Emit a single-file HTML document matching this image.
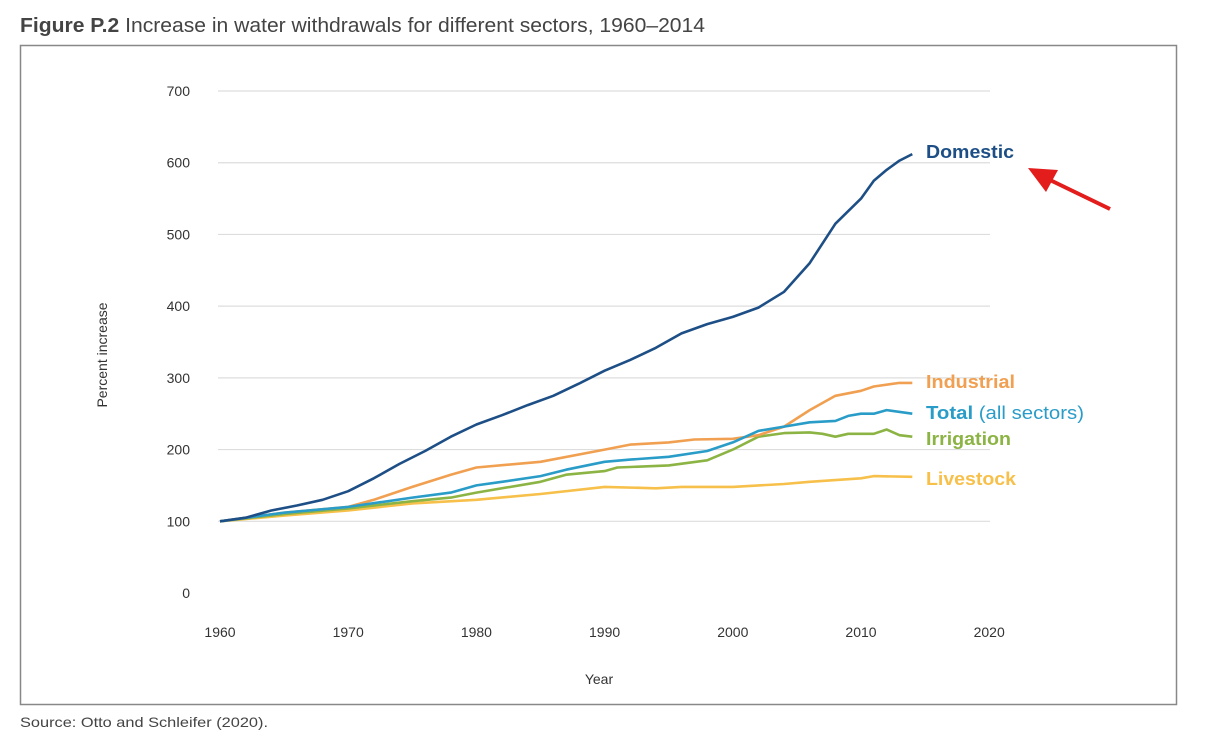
<!DOCTYPE html>
<html><head><meta charset="utf-8"><style>
body{margin:0;background:#fff;width:1209px;height:737px;overflow:hidden;font-family:"Liberation Sans",sans-serif}
</style></head><body>
<svg width="1209" height="737" xmlns="http://www.w3.org/2000/svg" font-family="Liberation Sans, sans-serif">
<text x="20" y="32" font-size="20" fill="#444" textLength="685" lengthAdjust="spacingAndGlyphs"><tspan font-weight="bold">Figure P.2</tspan> Increase in water withdrawals for different sectors, 1960–2014</text>
<rect x="20.5" y="45.5" width="1156" height="659" fill="none" stroke="#888" stroke-width="1.5"/>
<g id="grid" stroke="#ddd" stroke-width="1.2"></g>
<g id="ylab" font-size="14" fill="#333" text-anchor="end"></g>
<g id="xlab" font-size="14" fill="#333" text-anchor="middle"></g>
<text x="599" y="684" font-size="14" fill="#333" text-anchor="middle">Year</text>
<text transform="translate(107,355) rotate(-90)" font-size="14" fill="#333" text-anchor="middle">Percent increase</text>
<g id="lines" fill="none" stroke-width="2.6" stroke-linejoin="round"></g>
<g font-size="18" font-weight="bold">
<text x="926" y="158" fill="#1d4f86" textLength="88" lengthAdjust="spacingAndGlyphs">Domestic</text>
<text x="926" y="388" fill="#f0a050" textLength="89" lengthAdjust="spacingAndGlyphs">Industrial</text>
<text x="926" y="419" fill="#2a9cc8" textLength="158" lengthAdjust="spacingAndGlyphs">Total <tspan font-weight="normal">(all sectors)</tspan></text>
<text x="926" y="445" fill="#8cb444" textLength="85" lengthAdjust="spacingAndGlyphs">Irrigation</text>
<text x="926" y="485" fill="#f7c04a" textLength="90" lengthAdjust="spacingAndGlyphs">Livestock</text>
</g>
<line x1="1110" y1="209" x2="1050" y2="180" stroke="#e31c1c" stroke-width="4"/>
<polygon points="1028,168 1058,170 1046,192" fill="#e31c1c"/>
<text x="20" y="727" font-size="14" fill="#444" textLength="248" lengthAdjust="spacingAndGlyphs">Source: Otto and Schleifer (2020).</text>
</svg>
<script>
var X=y=>220+(y-1960)*12.82, Y=v=>593-v*0.7171, ns="http://www.w3.org/2000/svg";
function el(p,t,a,txt){var e=document.createElementNS(ns,t);for(var k in a)e.setAttribute(k,a[k]);if(txt)e.textContent=txt;document.getElementById(p).appendChild(e);}
for(var v=100;v<=700;v+=100)el("grid","line",{x1:218,x2:990,y1:Y(v),y2:Y(v)});
for(var v=0;v<=700;v+=100)el("ylab","text",{x:190,y:Y(v)+5},""+v);
for(var yr=1960;yr<=2020;yr+=10)el("xlab","text",{x:X(yr),y:637},""+yr);
var S=[
["#f7c04a",[1960,100,1965,108,1970,115,1975,125,1980,130,1985,138,1990,148,1994,146,1996,148,2000,148,2004,152,2006,155,2010,160,2011,163,2014,162]],
["#8cb444",[1960,100,1965,110,1970,118,1975,128,1978,133,1980,140,1985,155,1987,165,1990,170,1991,175,1995,178,1998,185,2000,200,2002,218,2004,223,2006,224,2007,222,2008,218,2009,222,2011,222,2012,228,2013,220,2014,218]],
["#f0a050",[1960,100,1965,112,1970,120,1972,130,1975,148,1978,165,1980,175,1985,183,1990,200,1992,207,1995,210,1997,214,2000,215,2002,220,2004,232,2006,255,2008,275,2010,282,2011,288,2013,293,2014,293]],
["#2a9cc8",[1960,100,1965,112,1970,120,1975,133,1978,140,1980,150,1982,155,1985,163,1987,172,1990,183,1992,186,1995,190,1998,198,2000,210,2002,226,2004,232,2006,238,2008,240,2009,247,2010,250,2011,250,2012,255,2014,250]],
["#1d4f86",[1960,100,1962,105,1964,115,1966,122,1968,130,1970,142,1972,160,1974,180,1976,198,1978,218,1980,235,1982,248,1984,262,1986,275,1988,292,1990,310,1992,325,1994,342,1996,362,1998,375,2000,385,2002,398,2004,420,2006,460,2008,515,2010,550,2011,575,2012,590,2013,603,2014,612]]];
S.forEach(function(s){var p=[];for(var i=0;i<s[1].length;i+=2)p.push(X(s[1][i]).toFixed(1)+","+Y(s[1][i+1]).toFixed(1));el("lines","polyline",{points:p.join(" "),stroke:s[0]});});
</script>
</body></html>
